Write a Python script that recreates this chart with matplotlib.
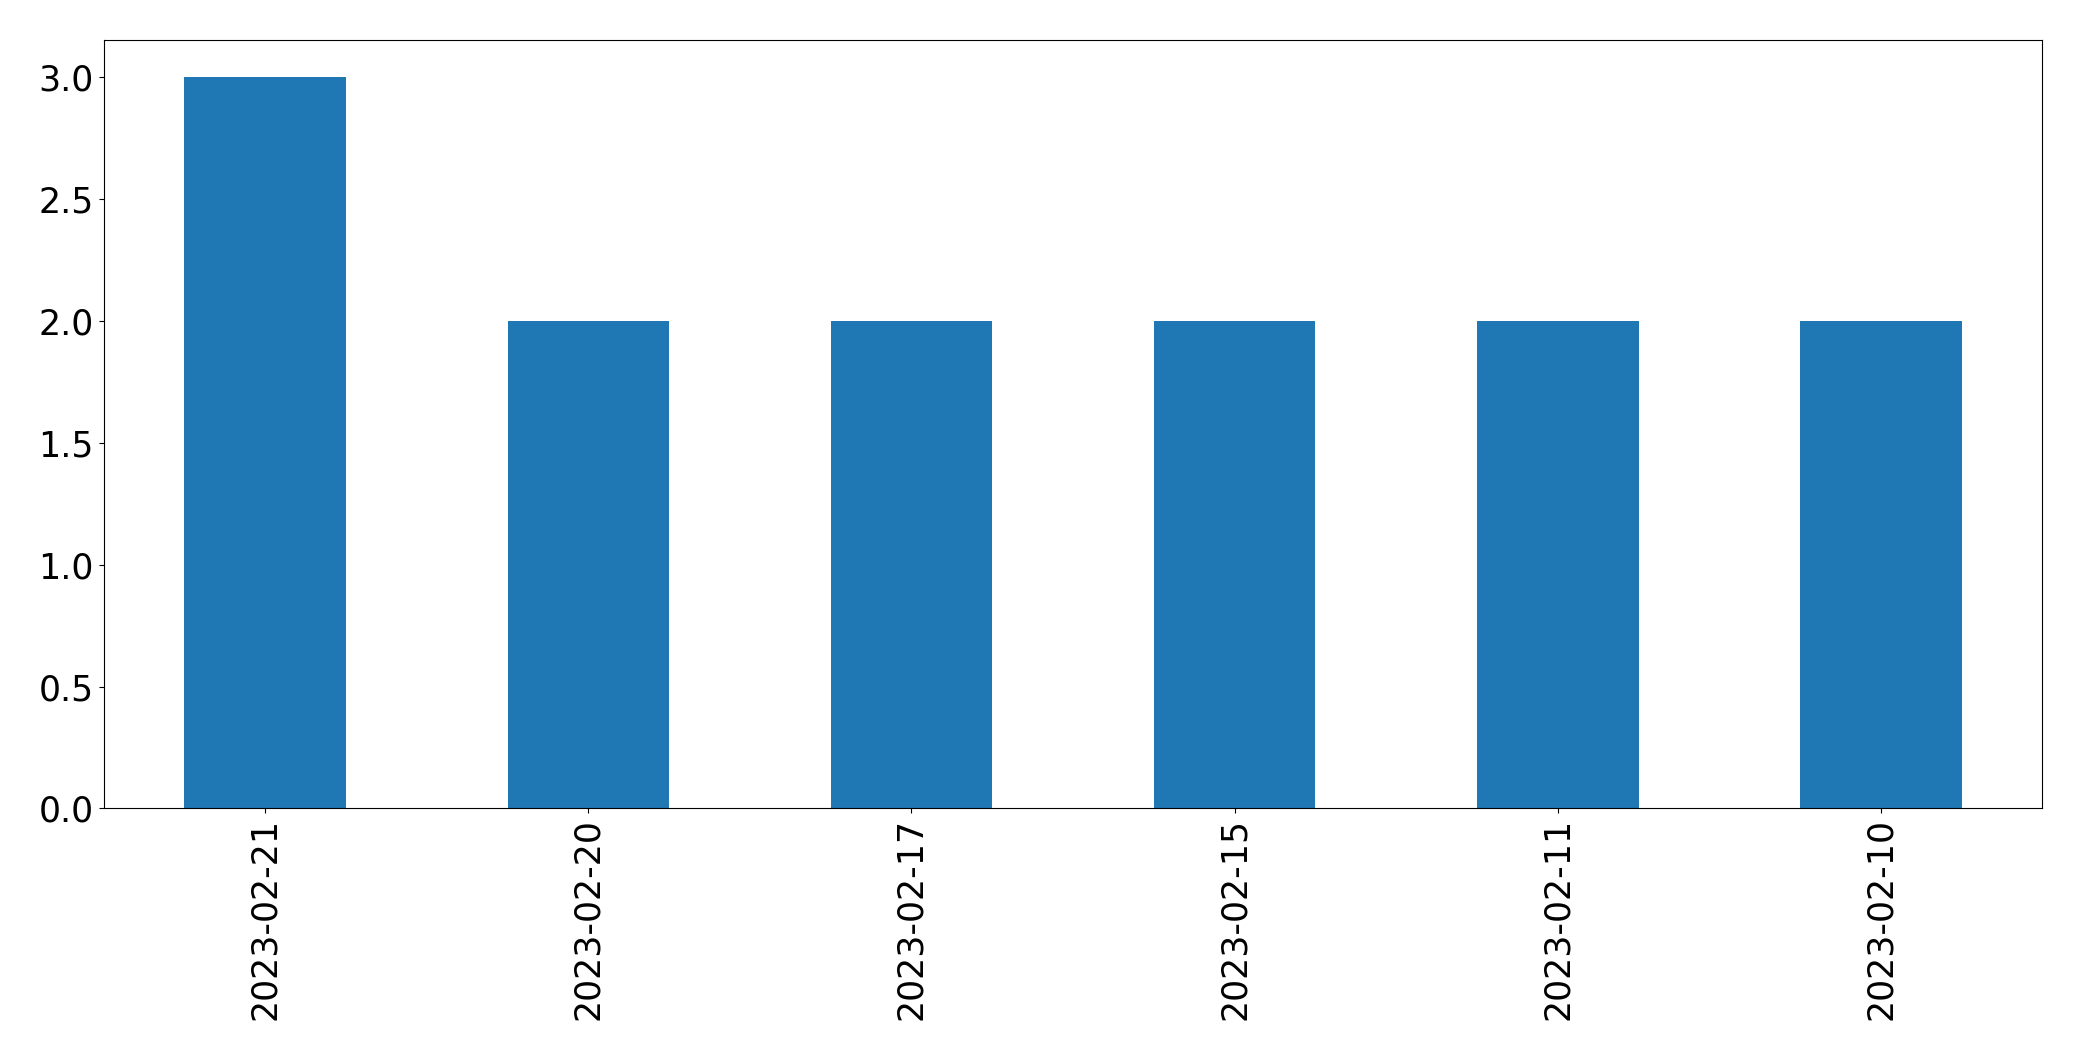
import pandas as pd
import matplotlib
matplotlib.use("Agg")
import matplotlib.pyplot as plt

# counts per date
dates = ["2023-02-21", "2023-02-20", "2023-02-17", "2023-02-15", "2023-02-11", "2023-02-10"]
counts = [3, 2, 2, 2, 2, 2]

s = pd.Series(counts, index=dates)

fig, ax = plt.subplots(figsize=(20.82, 10.61), dpi=100)
s.plot(kind="bar", ax=ax, color="#1f77b4", fontsize=25)
ax.tick_params(axis="both", labelsize=25)

plt.subplots_adjust(left=0.0498, right=0.981, top=0.962, bottom=0.238)
plt.savefig("out.png", dpi=100)
